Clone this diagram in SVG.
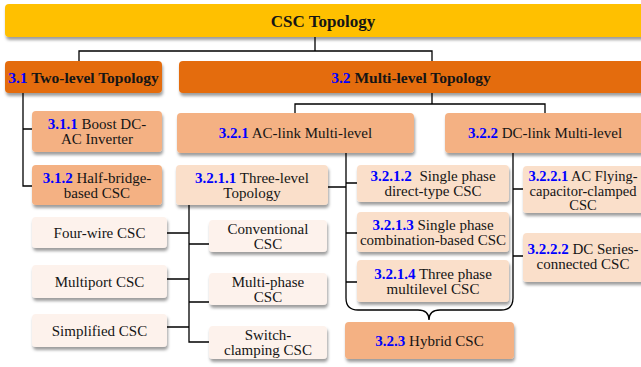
<svg xmlns="http://www.w3.org/2000/svg" width="641" height="367" viewBox="0 0 641 367">
<defs>
<filter id="sh" x="-10%" y="-20%" width="130%" height="160%">
<feDropShadow dx="1" dy="3" stdDeviation="1.6" flood-color="#000" flood-opacity="0.38"/>
</filter>
</defs>
<style>
rect { filter:url(#sh); }
.c0 { fill:#FFC000; }
.c1 { fill:#E46C0A; }
.c2 { fill:#F4B183; }
.c3 { fill:#FADFCA; }
.c4 { fill:#FDF2EC; }
.ln { stroke:#000; stroke-width:1.3; fill:none; }
text { font-family:"Liberation Serif","Times New Roman",serif; font-size:15px; fill:#151515; text-anchor:middle; }
.h { font-weight:bold; font-size:15.5px; }
.t { font-weight:bold; font-size:17px; }
.n { fill:#0000FF; font-weight:bold; }
.s { font-size:14.5px; }
</style>

<g id="connectors">
<path class="ln" d="M315 37 V51 M79 61 V51 H432 V61"/>
<path class="ln" d="M23 93 V186 H32 M23 129 H32"/>
<path class="ln" d="M432 93 V104 M295 113 V104 H545 V113"/>
<path class="ln" d="M346 153 V298 Q346 310 358 310 H418 Q429 310 429 320 M513 153 V298 Q513 310 501 310 H440 Q429 310 429 320"/>
<path class="ln" d="M328 187 H346 M346 183 H357 M346 233 H357 M346 282 H357"/>
<path class="ln" d="M513 189 H523 M513 256 H523"/>
<path class="ln" d="M189 205 V342 H209 M167 233 H189 M189 244 H209 M167 279 H189 M189 302 H209 M167 327 H189"/>
</g>

<g id="n0"><rect class="c0" x="5" y="4" width="645" height="33" rx="4"/><text class="t" x="323" y="27">CSC Topology</text></g>

<g id="n31"><rect class="c1" x="5" y="61" width="157" height="32" rx="4"/><text class="h" x="83.5" y="82.5"><tspan class="n">3.1</tspan> Two-level Topology</text></g>
<g id="n32"><rect class="c1" x="179" y="61" width="470" height="32" rx="4"/><text class="h" x="411" y="82.5"><tspan class="n">3.2</tspan> Multi-level Topology</text></g>

<g id="n311"><rect class="c2" x="32" y="111" width="130" height="41" rx="4"/><text x="97" y="129"><tspan class="n">3.1.1</tspan> Boost DC-</text><text x="97" y="144">AC Inverter</text></g>
<g id="n312"><rect class="c2" x="32" y="165" width="130" height="40" rx="4"/><text x="97" y="182.5"><tspan class="n">3.1.2</tspan> Half-bridge-</text><text x="97" y="197.5">based CSC</text></g>

<g id="n321"><rect class="c2" x="177" y="113" width="237" height="40" rx="4"/><text x="295.5" y="138"><tspan class="n">3.2.1</tspan> AC-link Multi-level</text></g>
<g id="n322"><rect class="c2" x="445" y="113" width="205" height="40" rx="4"/><text x="545" y="138"><tspan class="n">3.2.2</tspan> DC-link Multi-level</text></g>

<g id="n3211"><rect class="c3" x="176" y="165" width="152" height="40" rx="4"/><text x="252" y="182.5"><tspan class="n">3.2.1.1</tspan> Three-level</text><text x="252" y="197.5">Topology</text></g>
<g id="n3212"><rect class="c3" x="357" y="165" width="152" height="37" rx="4"/><text x="433" y="181"><tspan class="n">3.2.1.2</tspan><tspan dx="4"> Single phase</tspan></text><text x="433" y="196">direct-type CSC</text></g>
<g id="n3213"><rect class="c3" x="357" y="212" width="152" height="40" rx="4"/><text x="433" y="229.5"><tspan class="n">3.2.1.3</tspan> Single phase</text><text x="433" y="244.5">combination-based CSC</text></g>
<g id="n3214"><rect class="c3" x="357" y="260" width="152" height="42" rx="4"/><text x="433" y="278.5"><tspan class="n">3.2.1.4</tspan> Three phase</text><text x="433" y="293.5">multilevel CSC</text></g>

<g id="n3221"><rect class="c3" x="523" y="166" width="125" height="47" rx="4"/><text class="s" x="583" y="181"><tspan class="n">3.2.2.1</tspan> AC Flying-</text><text class="s" x="583" y="195.5">capacitor-clamped</text><text class="s" x="583" y="210">CSC</text></g>
<g id="n3222"><rect class="c3" x="523" y="233" width="125" height="49" rx="4"/><text x="583" y="254"><tspan class="n">3.2.2.2</tspan> DC Series-</text><text x="583" y="268.5">connected CSC</text></g>

<g id="n323"><rect class="c2" x="345" y="322" width="169" height="37" rx="4"/><text x="429.5" y="345.5"><tspan class="n">3.2.3</tspan> Hybrid CSC</text></g>

<g id="four"><rect class="c4" x="32" y="217" width="135" height="31" rx="4"/><text x="99.5" y="237.5">Four-wire CSC</text></g>
<g id="multiport"><rect class="c4" x="32" y="265" width="135" height="33" rx="4"/><text x="99.5" y="286.5">Multiport CSC</text></g>
<g id="simplified"><rect class="c4" x="32" y="314" width="135" height="33" rx="4"/><text x="99.5" y="335.5">Simplified CSC</text></g>

<g id="conventional"><rect class="c4" x="209" y="220" width="118" height="32" rx="4"/><text x="268" y="233.5">Conventional</text><text x="268" y="248.5">CSC</text></g>
<g id="multiphase"><rect class="c4" x="209" y="273" width="118" height="32" rx="4"/><text x="268" y="286.5">Multi-phase</text><text x="268" y="301.5">CSC</text></g>
<g id="switch"><rect class="c4" x="209" y="326" width="118" height="33" rx="4"/><text x="268" y="340">Switch-</text><text x="268" y="355">clamping CSC</text></g>
</svg>
